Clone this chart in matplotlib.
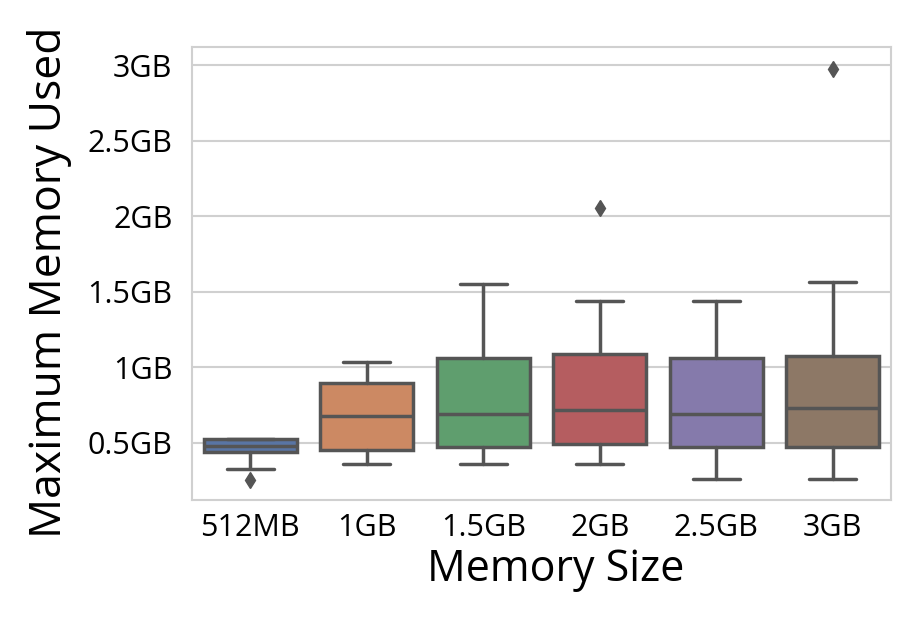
import matplotlib
matplotlib.use("Agg")
import matplotlib.pyplot as plt
import seaborn as sns

categories = ["512MB", "1GB", "1.5GB", "2GB", "2.5GB", "3GB"]
q1 = [0.439, 0.452, 0.474, 0.494, 0.472, 0.472]
median = [0.479, 0.678, 0.689, 0.716, 0.689, 0.729]
q3 = [0.523, 0.893, 1.064, 1.088, 1.062, 1.077]
whisker_low = [0.328, 0.357, 0.359, 0.357, 0.259, 0.259]
whisker_high = [0.525, 1.037, 1.549, 1.438, 1.438, 1.5625]
outliers = [[0.25], [], [], [2.057], [], [2.972]]
ytick_vals = [0.5, 1.0, 1.5, 2.0, 2.5, 3.0]
ytick_labels = ["0.5GB", "1GB", "1.5GB", "2GB", "2.5GB", "3GB"]

sns.set_style("whitegrid")
plt.rcParams['font.family'] = ['Open Sans', 'DejaVu Sans']

fig = plt.figure(figsize=(9.16, 6.33), dpi=100)
ax = fig.add_axes([0.2096, 0.210, 0.7631, 0.7157])

palette = sns.color_palette("deep", 6)
colors = [sns.desaturate(c, 0.75) for c in palette]
gray = "#555555"

stats = []
for i in range(len(categories)):
    stats.append(dict(med=median[i], q1=q1[i], q3=q3[i],
                      whislo=whisker_low[i], whishi=whisker_high[i],
                      fliers=outliers[i], label=categories[i]))

bp = ax.bxp(stats, positions=range(len(categories)), widths=0.8,
            patch_artist=True, showfliers=True,
            boxprops=dict(edgecolor=gray, linewidth=2.5),
            medianprops=dict(color=gray, linewidth=2.5),
            whiskerprops=dict(color=gray, linewidth=2.5),
            capprops=dict(color=gray, linewidth=2.5),
            flierprops=dict(marker='d', markerfacecolor=gray,
                            markeredgecolor=gray, markersize=8))
for patch, c in zip(bp['boxes'], colors):
    patch.set_facecolor(c)

for cap in bp['caps']:
    x = cap.get_xdata()
    mid = (x[0] + x[1]) / 2
    cap.set_xdata([mid - 0.2, mid + 0.2])

ax.set_xlim(-0.5, len(categories) - 0.5)
ax.set_ylim(0.12, 3.12)
ax.set_yticks(ytick_vals)
ax.set_yticklabels(ytick_labels, fontsize=22, color="black")
ax.set_xticks(range(len(categories)))
ax.set_xticklabels(categories, fontsize=22, color="black")
ax.xaxis.grid(False)
ax.yaxis.grid(True, color="#d0d0d0", linewidth=1.5)
for s in ax.spines.values():
    s.set_color("#d0d0d0")
    s.set_linewidth(1.5)
ax.tick_params(axis='y', length=0, pad=14)
ax.tick_params(axis='x', length=0, pad=9)

ax.set_xlabel("Memory Size", fontsize=31, color="black")
ax.set_ylabel("Maximum Memory Used", fontsize=32, color="black")
ax.xaxis.set_label_coords(0.521, -0.105)
ax.yaxis.set_label_coords(-0.172, 0.481)

fig.savefig("out.png", dpi=100)
